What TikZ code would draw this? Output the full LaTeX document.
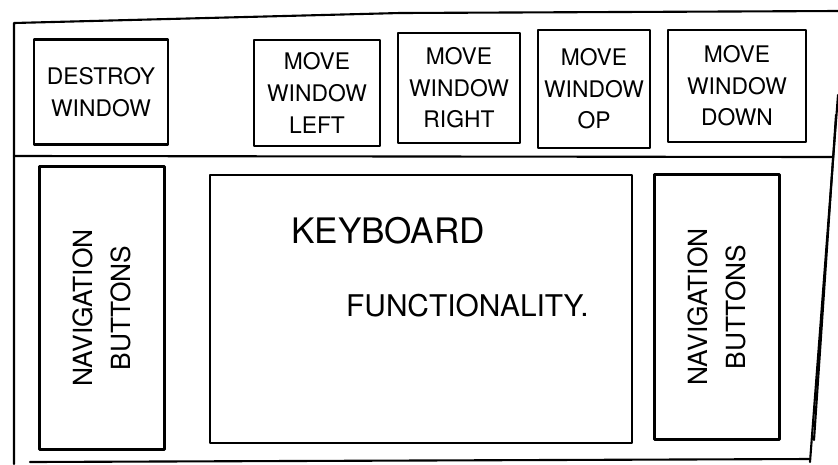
\documentclass[tikz,border=0pt]{standalone}
\usepackage{fontspec}
\setmainfont{TeX Gyre Heros}
\begin{document}
\begin{tikzpicture}[x=0.02cm,y=-0.02cm,
  sketch/.style={line width=1.2pt,line join=round,line cap=round},
  btn/.style={sketch,draw,align=center,inner sep=0pt,font=\fontsize{13}{18}\selectfont},
  navbox/.style={sketch,draw,inner sep=0pt},
  navtext/.style={rotate=90,align=center,font=\fontsize{15}{22}\selectfont}]
\useasboundingbox (0,0) rectangle (838,464);
% outer frame
\draw[sketch] (838,11) -- (400,13) -- (14,23) -- (14,464);
\draw[sketch] (30,462) -- (810,459);
\draw[sketch] (838,95) -- (810,462);
\draw[sketch] (836,115) -- (814,440);
% divider
\draw[sketch] (14,156) -- (832,157);
% top buttons
\node[btn,minimum width=2.68cm,minimum height=2.1cm] (destroy) at (101,92) {DESTROY\\WINDOW};
\node[btn,minimum width=2.52cm,minimum height=2.12cm] (left) at (317,93) {MOVE\\WINDOW\\LEFT};
\node[btn,minimum width=2.44cm,minimum height=2.2cm] (right) at (459,88) {MOVE\\WINDOW\\RIGHT};
\node[btn,minimum width=2.24cm,minimum height=2.36cm] (up) at (594,89) {MOVE\\WINDOW\\OP};
\node[btn,minimum width=2.76cm,minimum height=2.24cm] (down) at (737,86) {MOVE\\WINDOW\\DOWN};
% lower area
\node[navbox,minimum width=2.5cm,minimum height=5.66cm] (navl) at (102,308) {};
\node[navtext] (navltext) at (navl) {NAVIGATION\\BUTTONS};
\node[navbox,minimum width=8.44cm,minimum height=5.36cm] (kb) at (421,309) {};
\node[anchor=base west,font=\fontsize{20}{24}\selectfont] (kb1) at (285,243) {KEYBOARD};
\node[anchor=base west,font=\fontsize{17}{20}\selectfont] (kb2) at (340,316) {FUNCTIONALITY.};
\node[navbox,minimum width=2.5cm,minimum height=5.3cm] (navr) at (717,307) {};
\node[navtext] (navrtext) at (navr) {NAVIGATION\\BUTTONS};
\end{tikzpicture}
\end{document}
